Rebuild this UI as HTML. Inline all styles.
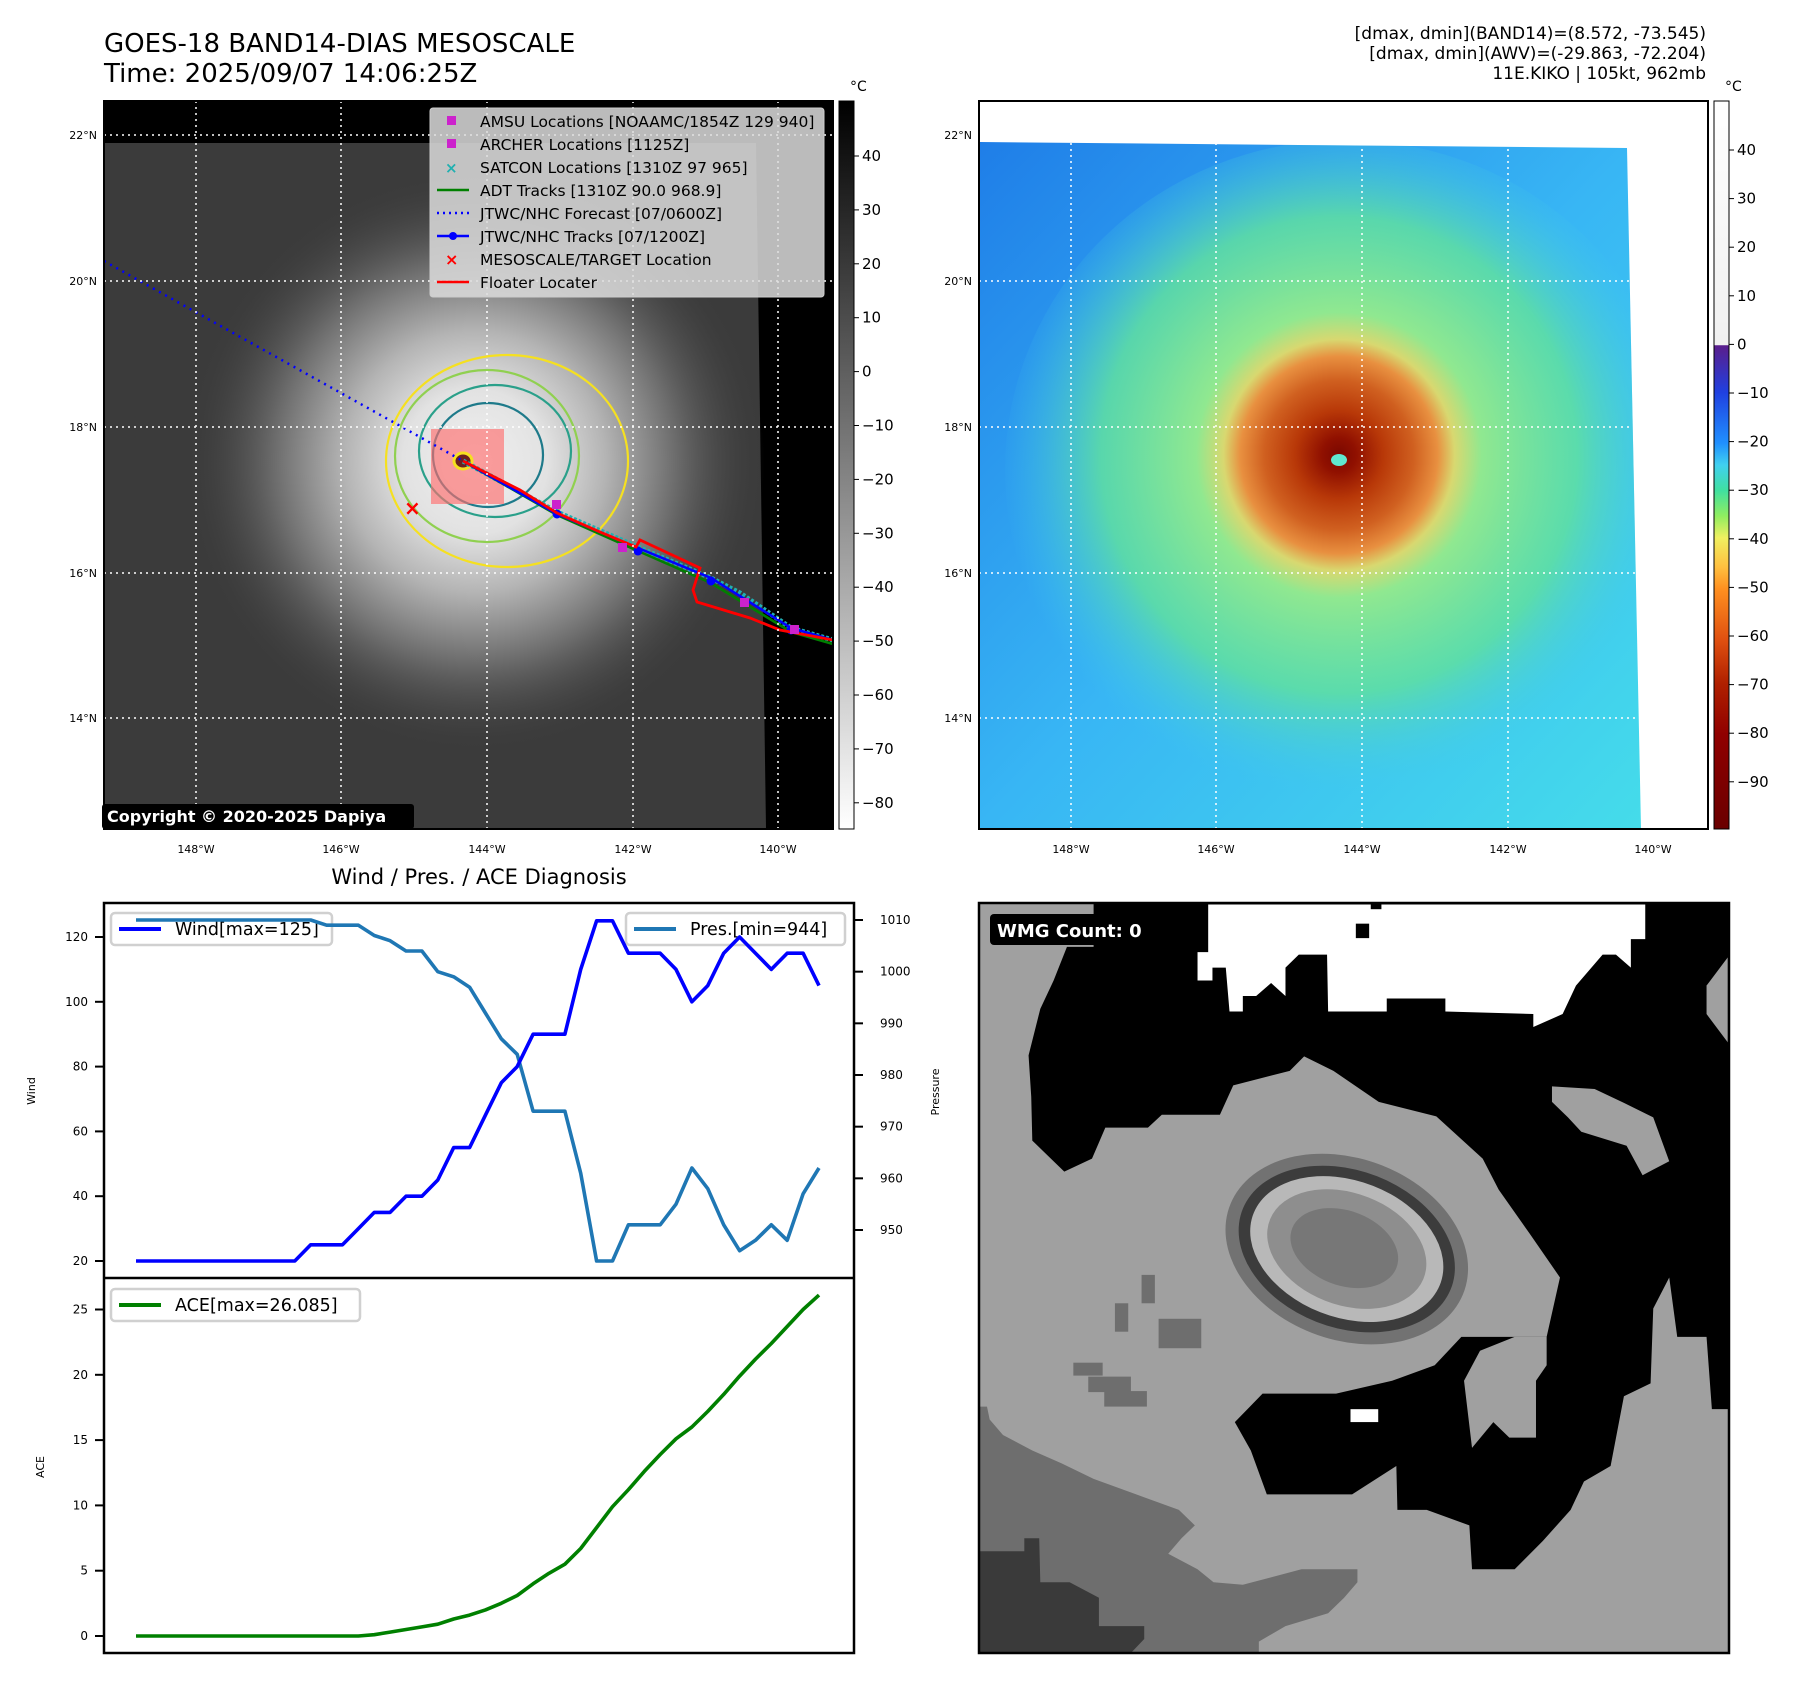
<!DOCTYPE html>
<html><head><meta charset="utf-8"><style>
html,body{margin:0;padding:0;background:#fff}
svg{display:block;font-family:"DejaVu Sans","Liberation Sans",sans-serif}
</style></head><body>
<svg id="root" width="1797" height="1690" viewBox="0 0 1797 1690" xmlns="http://www.w3.org/2000/svg">
<defs>
<radialGradient id="stormL" cx="475" cy="462" r="290" gradientUnits="userSpaceOnUse">
<stop offset="0" stop-color="#f0f0f0"/><stop offset="0.25" stop-color="#e2e2e2"/><stop offset="0.45" stop-color="#b4b4b4"/><stop offset="0.7" stop-color="#6a6a6a"/><stop offset="1" stop-color="#3c3c3c" stop-opacity="0"/>
</radialGradient>
<linearGradient id="bgR" x1="0" y1="0" x2="1" y2="1">
<stop offset="0" stop-color="#1f7ee8"/><stop offset="0.5" stop-color="#38b6f4"/><stop offset="1" stop-color="#45dcea"/>
</linearGradient>
<radialGradient id="stormR" cx="1339" cy="455" r="340" gradientUnits="userSpaceOnUse">
<stop offset="0" stop-color="#7a0800"/><stop offset="0.05" stop-color="#901000"/><stop offset="0.13" stop-color="#b83808"/><stop offset="0.22" stop-color="#d06020"/><stop offset="0.29" stop-color="#e89040"/><stop offset="0.34" stop-color="#d8d870"/><stop offset="0.42" stop-color="#90e890"/><stop offset="0.7" stop-color="#60e0a0" stop-opacity="0.85"/><stop offset="1" stop-color="#40c8f0" stop-opacity="0"/>
</radialGradient>
<linearGradient id="cbL" x1="0" y1="0" x2="0" y2="1"><stop offset="0" stop-color="#000"/><stop offset="1" stop-color="#fff"/></linearGradient>
<linearGradient id="cbR" x1="0" y1="0" x2="0" y2="1">
<stop offset="0" stop-color="#fff"/><stop offset="0.335" stop-color="#f0f0f0"/><stop offset="0.336" stop-color="#5a1e8c"/><stop offset="0.4" stop-color="#2040e0"/><stop offset="0.47" stop-color="#2090ff"/><stop offset="0.5" stop-color="#40d0f0"/><stop offset="0.535" stop-color="#40e0a0"/><stop offset="0.57" stop-color="#90ee60"/><stop offset="0.6" stop-color="#f0f060"/><stop offset="0.64" stop-color="#ffc040"/><stop offset="0.67" stop-color="#ff9020"/><stop offset="0.74" stop-color="#e05010"/><stop offset="0.8" stop-color="#b02000"/><stop offset="0.87" stop-color="#900000"/><stop offset="1" stop-color="#6a0000"/>
</linearGradient>
<clipPath id="clipL"><rect x="104" y="101" width="729" height="728"/></clipPath>
<clipPath id="clipR"><rect x="979" y="101" width="729" height="728"/></clipPath>
<clipPath id="clipRdata"><polygon points="980,142 1627,148 1641,829 980,829"/></clipPath>
</defs>

<text x="104" y="52" font-size="26">GOES-18 BAND14-DIAS MESOSCALE</text>
<text x="104" y="82" font-size="26">Time: 2025/09/07 14:06:25Z</text>
<g font-size="17" text-anchor="end">
<text x="1706" y="39">[dmax, dmin](BAND14)=(8.572, -73.545)</text>
<text x="1706" y="59">[dmax, dmin](AWV)=(-29.863, -72.204)</text>
<text x="1706" y="79">11E.KIKO | 105kt, 962mb</text>
</g>

<!-- LEFT MAP -->
<g clip-path="url(#clipL)">
<rect x="104" y="101" width="729" height="728" fill="#000"/>
<polygon points="105,143 756,143 766,829 105,829" fill="#3b3b3b"/>
<ellipse cx="475" cy="462" rx="300" ry="290" fill="url(#stormL)"/>
<g fill="none" stroke-width="2.2">
<ellipse cx="507" cy="461" rx="121" ry="106" stroke="#f5e020"/>
<ellipse cx="487" cy="456" rx="92" ry="86" stroke="#90d050"/>
<ellipse cx="495" cy="451" rx="76" ry="66" stroke="#2aa08a"/>
<ellipse cx="488" cy="455" rx="55" ry="52" stroke="#1e7a8a"/>
</g>
<rect x="431" y="429" width="73" height="75" fill="rgba(255,110,110,0.65)"/>
<ellipse cx="463" cy="461" rx="9" ry="8" fill="#6a2020" stroke="#f5e020" stroke-width="3"/>
<polyline points="104,261 463,461" fill="none" stroke="#0000ff" stroke-width="2.5" stroke-dasharray="2,5"/>
<polyline points="463,461 557,512 640,548 711,578 740,593 791,628 833,640" fill="none" stroke="#20b0b0" stroke-width="5" stroke-dasharray="3,2"/>
<polyline points="463,461 557,515 638,551 711,583 791,632 833,644" fill="none" stroke="#008000" stroke-width="2.5"/>
<polyline points="463,461 557,514 638,548 711,578 791,628 833,640" fill="none" stroke="#0000ff" stroke-width="2.5"/>
<g fill="#0000ff"><circle cx="557" cy="514" r="4.5"/><circle cx="638" cy="551" r="4.5"/><circle cx="711" cy="581" r="4.5"/><circle cx="791" cy="630" r="4.5"/></g>
<polyline points="463,461 520,490 557,513 600,532 636,547 640,540 700,568 693,590 697,602 750,618 780,630 833,640" fill="none" stroke="#ff0000" stroke-width="2.8"/>
<g fill="#cc22cc"><rect x="552" y="500" width="9" height="9"/><rect x="618" y="543" width="9" height="9"/><rect x="740" y="598" width="9" height="9"/><rect x="790" y="625" width="9" height="9"/></g>
<text x="404" y="515" font-size="20" fill="#ff0000" font-weight="bold">×</text>
<g stroke="#fff" stroke-width="1.5" stroke-dasharray="2,4">
<line x1="196" y1="101" x2="196" y2="829"/><line x1="341" y1="101" x2="341" y2="829"/><line x1="487" y1="101" x2="487" y2="829"/><line x1="633" y1="101" x2="633" y2="829"/><line x1="778" y1="101" x2="778" y2="829"/>
<line x1="104" y1="135" x2="833" y2="135"/><line x1="104" y1="281" x2="833" y2="281"/><line x1="104" y1="427" x2="833" y2="427"/><line x1="104" y1="573" x2="833" y2="573"/><line x1="104" y1="718" x2="833" y2="718"/>
</g>
</g>
<rect x="104" y="101" width="729" height="728" fill="none" stroke="#000" stroke-width="2"/>
<g>
<rect x="430" y="108" width="394" height="189" rx="3" fill="#dcdcdc" fill-opacity="0.85" stroke="#ccc"/>
<g font-size="15.5">
<rect x="447" y="116" width="9" height="9" fill="#cc22cc"/><text x="480" y="127">AMSU Locations [NOAAMC/1854Z 129 940]</text>
<rect x="447" y="139" width="9" height="9" fill="#cc22cc"/><text x="480" y="150">ARCHER Locations [1125Z]</text>
<text x="445" y="173" fill="#20b0b0" font-size="15" font-weight="bold">×</text><text x="480" y="173">SATCON Locations [1310Z 97 965]</text>
<line x1="437" y1="190" x2="469" y2="190" stroke="#008000" stroke-width="2.5"/><text x="480" y="196">ADT Tracks [1310Z 90.0 968.9]</text>
<line x1="437" y1="213" x2="469" y2="213" stroke="#0000ff" stroke-width="2.5" stroke-dasharray="2,4"/><text x="480" y="219">JTWC/NHC Forecast [07/0600Z]</text>
<line x1="437" y1="236" x2="469" y2="236" stroke="#0000ff" stroke-width="2.5"/><circle cx="453" cy="236" r="4" fill="#0000ff"/><text x="480" y="242">JTWC/NHC Tracks [07/1200Z]</text>
<text x="445" y="265" fill="#ff0000" font-size="16" font-weight="bold">×</text><text x="480" y="265">MESOSCALE/TARGET Location</text>
<line x1="437" y1="282" x2="469" y2="282" stroke="#ff0000" stroke-width="2.5"/><text x="480" y="288">Floater Locater</text>
</g></g>
<rect x="102" y="804" width="312" height="25" rx="3" fill="#000"/>
<text x="107" y="822" font-size="16" font-weight="bold" fill="#fff">Copyright © 2020-2025 Dapiya</text>

<g font-size="11" text-anchor="end">
<text x="97" y="139">22°N</text><text x="97" y="285">20°N</text><text x="97" y="431">18°N</text><text x="97" y="577">16°N</text><text x="97" y="722">14°N</text>
</g>
<g font-size="11" text-anchor="middle">
<text x="196" y="853">148°W</text><text x="341" y="853">146°W</text><text x="487" y="853">144°W</text><text x="633" y="853">142°W</text><text x="778" y="853">140°W</text>
</g>
<rect x="839" y="101" width="15" height="728" fill="url(#cbL)" stroke="#000" stroke-width="1"/>
<text x="850" y="91" font-size="14">°C</text>
<g id="cbLticks" font-size="15"></g>

<!-- RIGHT MAP -->
<g clip-path="url(#clipR)">
<rect x="979" y="101" width="729" height="728" fill="#fff"/>
<polygon points="980,142 1627,148 1641,829 980,829" fill="url(#bgR)"/>
<ellipse cx="1345" cy="470" rx="340" ry="330" fill="url(#stormR)" clip-path="url(#clipRdata)"/>
<ellipse cx="1339" cy="460" rx="8" ry="6" fill="#60e8d0"/>
<g stroke="#fff" stroke-width="1.5" stroke-dasharray="2,4">
<line x1="1071" y1="101" x2="1071" y2="829"/><line x1="1216" y1="101" x2="1216" y2="829"/><line x1="1362" y1="101" x2="1362" y2="829"/><line x1="1508" y1="101" x2="1508" y2="829"/><line x1="1653" y1="101" x2="1653" y2="829"/>
<line x1="979" y1="135" x2="1708" y2="135"/><line x1="979" y1="281" x2="1708" y2="281"/><line x1="979" y1="427" x2="1708" y2="427"/><line x1="979" y1="573" x2="1708" y2="573"/><line x1="979" y1="718" x2="1708" y2="718"/>
</g>
</g>
<rect x="979" y="101" width="729" height="728" fill="none" stroke="#000" stroke-width="2"/>
<g font-size="11" text-anchor="end">
<text x="972" y="139">22°N</text><text x="972" y="285">20°N</text><text x="972" y="431">18°N</text><text x="972" y="577">16°N</text><text x="972" y="722">14°N</text>
</g>
<g font-size="11" text-anchor="middle">
<text x="1071" y="853">148°W</text><text x="1216" y="853">146°W</text><text x="1362" y="853">144°W</text><text x="1508" y="853">142°W</text><text x="1653" y="853">140°W</text>
</g>
<rect x="1714" y="101" width="15" height="728" fill="url(#cbR)" stroke="#000" stroke-width="1"/>
<text x="1725" y="91" font-size="14">°C</text>
<g id="cbRticks" font-size="15"></g>

<!-- BOTTOM LEFT CHART -->
<text x="479" y="884" font-size="21" text-anchor="middle">Wind / Pres. / ACE Diagnosis</text>
<g id="chart"></g>

<!-- BOTTOM RIGHT -->
<g>
<rect x="979" y="903" width="750" height="750" fill="#a0a0a0"/>
<g transform="translate(979,903) scale(0.533,0.5165) translate(-35,-45)">
<path d="M250,45 L1442,45 L1442,1025 L1410,1025 L1400,885 L1345,885 L1330,770 L1300,830 L1295,975 L1245,1000 L1220,1135 L1170,1165 L1145,1220 L1093,1280 L1040,1335 L960,1335 L955,1250 L875,1220 L820,1220 L818,1135 L735,1190 L575,1190 L545,1105 L515,1050 L567,995 L705,995 L810,970 L890,940 L940,885 L1100,885 L1125,770 L1068,685 L1010,600 L980,540 L893,458 L785,430 L700,370 L645,342 L618,370 L512,398 L487,455 L378,455 L352,480 L272,480 L247,540 L195,565 L165,535 L135,505 L133,420 L128,340 L150,250 L175,195 L200,130 L250,130 Z" fill="#000"/>
<path d="M1110,400 L1190,405 L1245,432 L1300,460 L1330,545 L1280,572 L1250,515 L1165,488 L1140,460 L1110,430 Z" fill="#a0a0a0"/>
<path d="M1400,205 L1440,150 L1440,315 L1400,260 Z" fill="#a0a0a0"/>
<path d="M1040,885 L1100,885 L1100,940 L1080,970 L1080,1080 L1030,1080 L1000,1050 L960,1100 L945,970 L975,912 Z" fill="#a0a0a0"/>
<path d="M465,48 L1285,48 L1285,115 L1258,115 L1258,170 L1230,145 L1205,145 L1180,175 L1155,205 L1130,260 L1075,285 L1075,260 L910,255 L910,230 L800,230 L800,255 L690,255 L688,145 L635,145 L610,170 L610,225 L583,200 L555,225 L530,225 L530,255 L505,255 L498,170 L473,170 L473,195 L445,195 L445,140 L465,140 Z" fill="#fff"/>
<rect x="742" y="85" width="25" height="28" fill="#000"/><rect x="770" y="45" width="20" height="12" fill="#000"/>
<path d="M35,1020 L50,1020 L55,1045 L80,1075 L135,1105 L190,1130 L250,1160 L330,1190 L410,1220 L440,1250 L415,1275 L390,1305 L445,1335 L475,1360 L530,1365 L640,1335 L745,1335 L745,1360 L720,1390 L690,1420 L610,1445 L560,1475 L560,1497 L35,1497 Z" fill="#6e6e6e"/>
<path d="M35,1300 L120,1300 L120,1275 L148,1275 L150,1360 L205,1360 L260,1390 L260,1445 L345,1445 L345,1470 L320,1497 L35,1497 Z" fill="#3a3a3a"/>
<g fill="#6e6e6e"><rect x="340" y="765" width="25" height="55"/><rect x="290" y="820" width="25" height="55"/><rect x="372" y="850" width="80" height="57"/><rect x="212" y="935" width="55" height="25"/><rect x="240" y="962" width="80" height="30"/><rect x="270" y="990" width="80" height="30"/></g>
<rect x="732" y="1025" width="52" height="25" fill="#fff"/>
<g transform="rotate(22 725 715)">
<ellipse cx="725" cy="715" rx="235" ry="175" fill="#727272"/>
<ellipse cx="725" cy="715" rx="210" ry="152" fill="#3c3c3c"/>
<ellipse cx="725" cy="715" rx="188" ry="132" fill="#b8b8b8"/>
<ellipse cx="725" cy="715" rx="155" ry="108" fill="#8e8e8e"/>
<ellipse cx="720" cy="715" rx="105" ry="72" fill="#777"/>
</g>
</g>
<rect x="990" y="914" width="181" height="31" rx="4" fill="#000"/>
<text x="997" y="937" font-size="18" font-weight="bold" fill="#fff">WMG Count: 0</text>
<rect x="979" y="903" width="750" height="750" fill="none" stroke="#000" stroke-width="2.5"/>
</g>

<script>
var ns='http://www.w3.org/2000/svg';
var windVals=[20,20,20,20,20,20,20,20,20,20,20,25,25,25,30,35,35,40,40,45,55,55,65,75,80,90,90,90,110,125,125,115,115,115,110,100,105,115,120,115,110,115,115,105];
var presVals=[1010,1010,1010,1010,1010,1010,1010,1010,1010,1010,1010,1010,1009,1009,1009,1007,1006,1004,1004,1000,999,997,992,987,984,973,973,973,961,944,944,951,951,951,955,962,958,951,946,948,951,948,957,962];
var aceVals=[0,0,0,0,0,0,0,0,0,0,0,0,0,0,0,0.1,0.3,0.5,0.7,0.9,1.3,1.6,2.0,2.5,3.1,4.0,4.8,5.5,6.7,8.3,9.9,11.2,12.6,13.9,15.1,16.0,17.2,18.5,19.9,21.2,22.4,23.7,25.0,26.1];
var windTicks=[20,40,60,80,100,120];
var presTicks=[950,960,970,980,990,1000,1010];
var aceTicks=[0,5,10,15,20,25];
var cbLTicks=[40,30,20,10,0,-10,-20,-30,-40,-50,-60,-70,-80];
var cbRTicks=[40,30,20,10,0,-10,-20,-30,-40,-50,-60,-70,-80,-90];

function xs(i){return 136+i*(819-136)/(windVals.length-1);}
function yW(v){return 1261-(v-20)*3.24;}
function yP(p){return 920+(1010-p)*(310/60);}
function yA(v){return 1636-v*13.06;}
function yCbL(v){return 156+(40-v)*5.39;}
function yCbR(v){return 150+(40-v)*4.86;}

function mk(tag,attrs,parent){var e=document.createElementNS(ns,tag);for(var k in attrs)e.setAttribute(k,attrs[k]);parent.appendChild(e);return e;}

var gL=document.getElementById('cbLticks');
cbLTicks.forEach(function(v){
  var y=yCbL(v);
  var l=mk('line',{x1:854,y1:y,x2:859,y2:y,stroke:'#000'},gL);
  
  
  var t=mk('text',{x:862,y:y+5},gL);t.textContent=(v<0?'\u2212'+(-v):v);
  
  
});
var gR=document.getElementById('cbRticks');
cbRTicks.forEach(function(v){
  var y=yCbR(v);
  var l=mk('line',{x1:1729,y1:y,x2:1734,y2:y,stroke:'#000'},gR);
  
  
  var t=mk('text',{x:1737,y:y+5},gR);t.textContent=(v<0?'\u2212'+(-v):v);
  
  
});

var g=document.getElementById('chart');
mk('rect',{x:104,y:903,width:750,height:750,fill:'#fff'},g);
function pts(arr,fy){return arr.map(function(v,i){return xs(i).toFixed(1)+','+fy(v).toFixed(1);}).join(' ');}
windTicks.forEach(function(v){var y=yW(v);mk('line',{x1:95,y1:y,x2:104,y2:y,stroke:'#000','stroke-width':2},g);
  var t=mk('text',{x:88,y:y+4,'font-size':12,'text-anchor':'end'},g);t.textContent=v;
  
  });
presTicks.forEach(function(v){var y=yP(v);mk('line',{x1:854,y1:y,x2:863,y2:y,stroke:'#000','stroke-width':2},g);
  var t=mk('text',{x:880,y:y+4,'font-size':12},g);t.textContent=v;
  
  });
aceTicks.forEach(function(v){var y=yA(v);mk('line',{x1:95,y1:y,x2:104,y2:y,stroke:'#000','stroke-width':2},g);
  var t=mk('text',{x:88,y:y+4,'font-size':12,'text-anchor':'end'},g);t.textContent=v;
  
  });
var a1=mk('text',{x:0,y:0,'font-size':11,'text-anchor':'middle',transform:'translate(35,1091) rotate(-90)'},g);a1.textContent='Wind';


var a2=mk('text',{x:0,y:0,'font-size':11,'text-anchor':'middle',transform:'translate(939,1092) rotate(-90)'},g);a2.textContent='Pressure';


var a3=mk('text',{x:0,y:0,'font-size':11,'text-anchor':'middle',transform:'translate(44,1467) rotate(-90)'},g);a3.textContent='ACE';



function legend(x,y,w,color,label,name){
  var lg=mk('g',{},g);
  
  
  mk('rect',{x:x,y:y,width:w,height:32,rx:4,fill:'#fff',stroke:'#d0d0d0','stroke-width':2.5},lg);
  mk('line',{x1:x+8,y1:y+16,x2:x+50,y2:y+16,stroke:color,'stroke-width':4},lg);
  var t=mk('text',{x:x+64,y:y+22,'font-size':17.5},lg);t.textContent=label;
}
legend(111,913,221,'#0000ff','Wind[max=125]','wind-legend');
legend(626,913,219,'#1f77b4','Pres.[min=944]','pressure-legend');
legend(111,1289,249,'#008000','ACE[max=26.085]','ace-legend');

var pl=mk('polyline',{points:pts(presVals,yP),fill:'none',stroke:'#1f77b4','stroke-width':3.6,'stroke-linejoin':'round'},g);


var wl=mk('polyline',{points:pts(windVals,yW),fill:'none',stroke:'#0000ff','stroke-width':3.6,'stroke-linejoin':'round'},g);


var al=mk('polyline',{points:pts(aceVals,yA),fill:'none',stroke:'#008000','stroke-width':3.6,'stroke-linejoin':'round'},g);


mk('rect',{x:104,y:903,width:750,height:750,fill:'none',stroke:'#000','stroke-width':2.5},g);
mk('line',{x1:104,y1:1278,x2:854,y2:1278,stroke:'#000','stroke-width':2.5},g);
</script>
</svg>
</body></html>
